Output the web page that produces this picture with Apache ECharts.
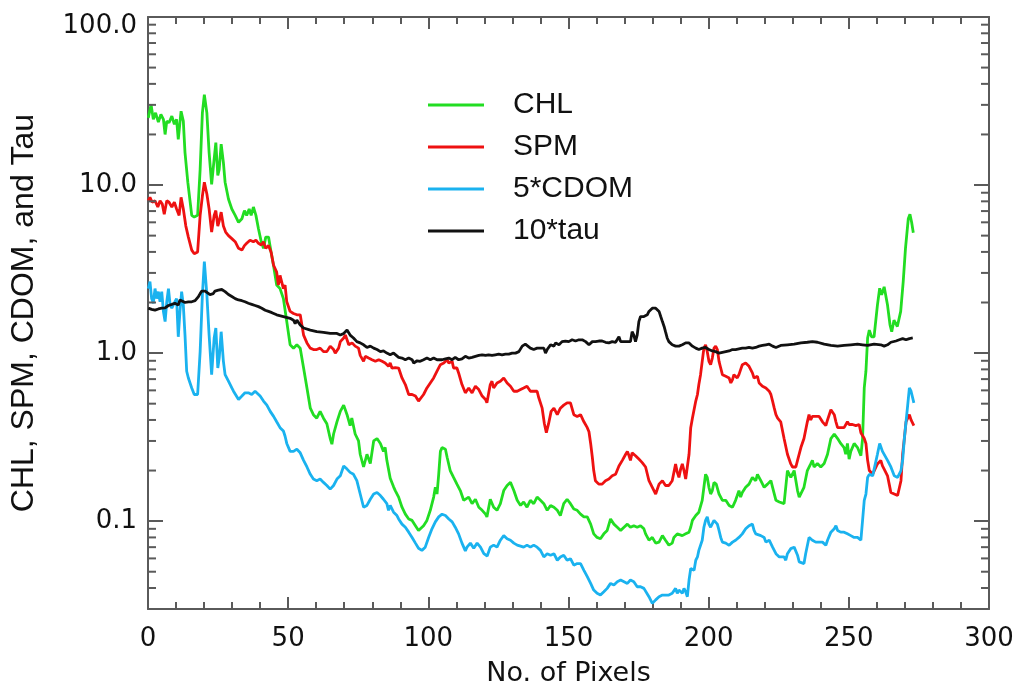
<!DOCTYPE html>
<html><head><meta charset="utf-8">
<script src="https://cdn.jsdelivr.net/npm/echarts@6/dist/echarts.min.js"></script>
<style>html,body{margin:0;padding:0;background:#fff}#c{width:1019px;height:692px}</style>
</head><body><div id="c"></div>
<script>
const seriesNames = ['CHL', 'SPM', '5*CDOM', '10*tau'];
const xTickInterval = 50;
const yMinorTicks = [0.04,0.05,0.06,0.07,0.08,0.09,0.2,0.3,0.4,0.5,0.6,0.7,0.8,0.9,2,3,4,5,6,7,8,9,20,30,40,50,60,70,80,90];

const chl = [[0.1,25.1],[1.1,30.1],[1.9,24.6],[2.7,26.9],[3.7,23.7],[4.6,26.3],[5.5,24.6],[6.1,20],[6.7,24],[7.5,23.5],[8.5,25.7],[9.4,23],[10.2,24.6],[10.8,18.7],[11.8,27.5],[12.6,24],[13.2,15.6],[14.2,10.4],[15.6,6.6],[16.5,6.45],[17.7,6.6],[18.6,12.4],[19.4,26.9],[20.1,34.5],[21,26.9],[21.8,15.6],[22.7,10.1],[23.6,14.3],[24.2,17.9],[24.9,11.4],[25.4,12.4],[26.1,17.5],[26.9,13.6],[27.5,10.4],[28.7,8.26],[29.9,7.2],[31.1,6.6],[32.3,6.0],[33.5,6.3],[34.4,7.05],[35.2,6.6],[36.1,7.2],[36.8,6.6],[37.6,7.4],[38.5,6.6],[39.4,5.5],[40.4,4.6],[41.2,4.2],[42,4.9],[43,4.9],[43.9,4.0],[44.8,3.3],[45.9,2.54],[47.1,2.42],[48.3,2.11],[49.5,1.54],[50.7,1.12],[51.9,1.07],[53.1,1.12],[54.3,1.07],[55.5,0.815],[56.7,0.62],[57.9,0.47],[59,0.43],[60.2,0.41],[61.4,0.45],[62.6,0.41],[63.8,0.38],[65,0.31],[65.6,0.287],[66.2,0.33],[67.4,0.39],[68.6,0.45],[69.8,0.49],[71,0.43],[72.1,0.37],[72.7,0.41],[73.9,0.33],[75.1,0.30],[75.7,0.25],[76.9,0.21],[78.1,0.25],[79.3,0.22],[80.5,0.30],[81.7,0.31],[82.9,0.29],[84,0.26],[84.6,0.275],[85.2,0.23],[86.4,0.18],[87.6,0.16],[88.2,0.152],[89.4,0.139],[90.6,0.121],[91.8,0.110],[93,0.103],[94.2,0.101],[95.4,0.094],[96.5,0.088],[97.1,0.086],[98.3,0.094],[99.5,0.101],[100.7,0.116],[101.9,0.139],[102.5,0.159],[103.1,0.145],[103.7,0.19],[104.3,0.26],[104.9,0.274],[106.1,0.268],[106.7,0.24],[107.8,0.2],[109,0.182],[110.2,0.166],[111.4,0.152],[112.6,0.133],[113.2,0.13],[114.4,0.139],[115.6,0.127],[116.8,0.135],[118,0.121],[119.2,0.116],[120.4,0.110],[120.9,0.106],[122.1,0.135],[123.3,0.121],[124.5,0.116],[125.7,0.127],[126.9,0.152],[128.1,0.163],[129.3,0.170],[130.5,0.152],[131.7,0.133],[132.9,0.124],[134,0.130],[135.2,0.121],[136.4,0.133],[137.6,0.127],[138.8,0.139],[140,0.133],[141.2,0.127],[142.4,0.116],[143.6,0.124],[144.8,0.121],[146,0.116],[147.1,0.108],[148.3,0.127],[149.5,0.135],[150.7,0.127],[151.9,0.118],[153.1,0.116],[154.3,0.110],[155.5,0.106],[156.7,0.106],[157.9,0.096],[159,0.084],[160.2,0.080],[161.4,0.0786],[162.6,0.084],[163.8,0.088],[165,0.103],[166.2,0.096],[167.4,0.092],[168.6,0.088],[169.8,0.092],[171,0.096],[172.1,0.092],[173.3,0.094],[174.5,0.092],[175.7,0.094],[176.9,0.090],[177.5,0.084],[178.7,0.077],[179.9,0.080],[181.1,0.074],[182.3,0.075],[183.5,0.082],[184.6,0.077],[185.8,0.072],[187,0.074],[187.6,0.080],[188.8,0.084],[190.6,0.082],[191.8,0.084],[193,0.086],[193.6,0.092],[194.2,0.101],[195.4,0.108],[196.5,0.113],[197.7,0.133],[198.3,0.159],[198.9,0.19],[199.5,0.182],[200.1,0.159],[200.7,0.145],[201.3,0.152],[201.9,0.170],[202.7,0.166],[203.7,0.145],[204.9,0.133],[206.1,0.133],[207.3,0.124],[208.5,0.121],[209.6,0.133],[210.2,0.142],[210.8,0.152],[211.4,0.139],[212,0.148],[213.2,0.159],[214.4,0.166],[215.6,0.182],[216.8,0.174],[217.4,0.19],[218.6,0.174],[219.8,0.159],[221,0.166],[222.2,0.174],[222.8,0.159],[224,0.133],[225.2,0.130],[226.9,0.127],[227.5,0.124],[228.1,0.2],[228.7,0.204],[229.3,0.182],[230.5,0.2],[231.7,0.152],[232.3,0.139],[232.9,0.139],[234,0.159],[235.2,0.2],[236.4,0.219],[237,0.23],[237.6,0.21],[238.8,0.22],[240,0.21],[241.2,0.22],[242.4,0.25],[243.6,0.31],[244.8,0.33],[246,0.31],[247.1,0.29],[248.3,0.274],[248.9,0.25],[249.5,0.29],[250.1,0.234],[250.7,0.26],[251.9,0.29],[253.1,0.274],[254.3,0.245],[254.9,0.31],[255.5,0.62],[256.1,0.78],[256.7,1.23],[257.3,1.37],[258.1,1.25],[259,1.25],[260.2,1.93],[261,2.43],[261.7,2.22],[262.6,2.48],[263.8,1.93],[264.7,1.47],[265.3,1.34],[266.1,1.57],[267.3,1.44],[268.5,1.77],[269.4,2.66],[270.2,4.18],[271.2,6.3],[271.8,6.7],[272.4,6.0],[273,5.2]];

const spm = [[0.1,8.07],[0.7,8.45],[1.5,7.9],[2.5,8.07],[3.5,7.4],[4.3,8.07],[5.1,7.7],[5.8,6.7],[6.7,8.07],[7.5,7.9],[8.5,7.4],[9.4,7.9],[10.2,7.2],[11.1,6.6],[11.8,8.45],[12.6,7.2],[13.5,5.7],[14.4,4.9],[15.6,4.1],[16.5,3.9],[17.7,4.0],[18.6,6.6],[19.4,8.6],[20.1,10.4],[21,8.85],[21.8,7.2],[22.7,5.25],[23.6,6.6],[24.2,7.05],[24.9,5.7],[25.4,6.1],[26.1,6.9],[26.9,5.7],[27.7,5.25],[28.7,5.0],[29.9,4.8],[31.1,4.6],[32.3,4.2],[33.5,4.1],[34.4,4.36],[35.2,4.5],[36.4,4.7],[37.6,4.6],[38.5,4.7],[39.4,4.5],[40.4,4.4],[41.2,4.6],[42,4.2],[43,4.36],[43.9,4.0],[44.8,3.33],[45.9,3.03],[46.5,2.54],[47.1,2.9],[48.3,2.42],[48.9,2.54],[49.5,2.02],[50.7,1.77],[51.9,1.72],[53.1,1.69],[54.3,1.69],[54.9,1.47],[55.5,1.28],[56.7,1.15],[57.9,1.07],[59,1.05],[60.2,1.05],[61.4,1.07],[62.6,1.02],[63.8,1.02],[65,1.1],[66.2,1.05],[66.8,1.0],[68,1.07],[68.6,1.17],[69.8,1.23],[70.4,1.28],[71,1.2],[71.6,1.12],[72.8,1.15],[73.9,1.1],[74.5,1.12],[75.1,1.07],[75.7,0.97],[76.9,0.893],[77.5,0.956],[78.7,0.934],[79.9,0.913],[81.1,0.893],[82.3,0.913],[83.5,0.893],[84.6,0.873],[85.8,0.834],[86.4,0.873],[87,0.815],[88.2,0.82],[89.4,0.815],[90.6,0.711],[91.8,0.65],[93,0.567],[94.2,0.567],[95.4,0.555],[96.5,0.518],[97.1,0.506],[98.3,0.567],[99.5,0.62],[100.7,0.664],[101.9,0.711],[103.1,0.78],[104.3,0.853],[105.5,0.873],[106.7,0.913],[107.3,0.873],[107.9,0.853],[108.5,0.893],[109,0.815],[110.2,0.815],[110.8,0.762],[112,0.65],[113.2,0.58],[114.4,0.62],[115.6,0.58],[116.8,0.635],[118,0.607],[119.2,0.555],[120.4,0.53],[120.9,0.506],[122.1,0.65],[122.7,0.68],[123.3,0.62],[124.5,0.664],[125.7,0.68],[126.9,0.711],[128.1,0.664],[129.3,0.635],[130.5,0.593],[131.7,0.593],[132.9,0.607],[134,0.62],[135.2,0.635],[136.4,0.593],[137.6,0.593],[138.8,0.593],[139.4,0.542],[140.6,0.47],[141.4,0.38],[142.1,0.336],[142.9,0.38],[143.8,0.45],[144.8,0.47],[146,0.43],[147.1,0.47],[148.3,0.49],[149.5,0.506],[150.7,0.506],[151.9,0.43],[153.1,0.42],[154.3,0.43],[155.5,0.39],[156.7,0.36],[157.3,0.34],[157.9,0.29],[158.5,0.24],[159,0.2],[159.6,0.174],[160.8,0.166],[162,0.166],[163.2,0.174],[164.4,0.178],[165.6,0.186],[166.8,0.19],[168,0.213],[169.2,0.23],[170.4,0.25],[171,0.26],[171.6,0.245],[172.1,0.23],[172.7,0.255],[173.9,0.245],[175.1,0.234],[176.3,0.223],[177.5,0.21],[178.7,0.174],[179.9,0.159],[181.1,0.145],[182.3,0.166],[183.5,0.174],[184.6,0.163],[185.8,0.163],[187,0.174],[188.2,0.219],[188.8,0.195],[189.4,0.182],[190,0.204],[190.6,0.219],[191.2,0.2],[191.8,0.178],[192.4,0.174],[193,0.25],[193.6,0.36],[194.2,0.41],[194.8,0.42],[195.4,0.518],[196,0.567],[196.5,0.65],[197.1,0.744],[197.7,0.893],[198.3,1.07],[198.9,1.12],[199.5,1.02],[200.1,0.893],[200.7,0.853],[201.3,0.934],[201.9,1.07],[202.5,1.1],[203.1,1.05],[203.7,0.893],[204.3,0.815],[204.9,0.744],[206.1,0.728],[207.3,0.711],[207.9,0.664],[208.5,0.695],[209,0.744],[209.6,0.728],[210.2,0.711],[210.8,0.744],[211.4,0.797],[212,0.853],[212.6,0.834],[213.2,0.873],[213.8,0.853],[214.4,0.834],[215,0.853],[215.6,0.762],[216.2,0.711],[216.8,0.695],[217.4,0.728],[218,0.664],[218.6,0.68],[219.2,0.635],[219.8,0.65],[220.4,0.62],[221,0.62],[221.6,0.593],[222.2,0.567],[222.8,0.518],[223.4,0.47],[224,0.43],[224.6,0.41],[225.7,0.39],[226.9,0.31],[228.1,0.25],[229.3,0.219],[229.9,0.21],[231.1,0.21],[231.7,0.23],[232.9,0.274],[234,0.31],[235.2,0.39],[235.8,0.43],[236.4,0.40],[237,0.42],[238.2,0.42],[239.4,0.42],[240.6,0.39],[241.8,0.37],[242.4,0.40],[243.6,0.46],[244.2,0.47],[244.8,0.43],[245.4,0.39],[246,0.36],[247.1,0.36],[248.3,0.36],[249.5,0.39],[250.1,0.376],[250.7,0.37],[251.3,0.376],[252.5,0.37],[253.1,0.36],[253.7,0.376],[254.3,0.336],[254.9,0.33],[255.5,0.31],[256.1,0.29],[256.7,0.23],[257.3,0.2],[258.5,0.19],[259,0.186],[260.2,0.219],[260.8,0.223],[261.4,0.23],[262,0.213],[262.6,0.204],[263.2,0.204],[263.8,0.186],[264.4,0.166],[265,0.148],[266.2,0.145],[267.4,0.142],[268,0.145],[268.6,0.174],[269.2,0.25],[269.8,0.31],[270.4,0.39],[271,0.41],[271.6,0.43],[272.2,0.40],[273.2,0.37]];

const cdom5 = [[0.1,2.42],[0.7,2.66],[1.3,2.11],[1.9,1.98],[2.5,2.42],[3.1,2.11],[3.7,2.32],[4.3,2.02],[4.9,2.32],[5.5,1.77],[6.1,1.54],[6.7,2.02],[7.3,2.42],[7.9,1.93],[8.5,1.85],[9,1.93],[9.6,2.02],[10.2,2.11],[10.8,1.25],[11.4,1.77],[12,2.32],[12.6,1.93],[13.2,1.28],[13.8,0.78],[14.4,0.711],[15.6,0.62],[16.5,0.567],[17.7,0.567],[18.6,1.02],[19.4,2.22],[20.1,3.5],[21,2.22],[21.8,1.28],[22.7,0.744],[23.6,1.23],[24.2,1.41],[24.9,0.815],[25.4,0.934],[26.1,1.34],[26.9,0.893],[27.5,0.744],[28.7,0.68],[29.9,0.62],[30.5,0.593],[31.1,0.593],[32.3,0.53],[33.5,0.555],[34.6,0.58],[35.8,0.58],[37,0.567],[38.2,0.593],[38.8,0.607],[40,0.555],[41.2,0.518],[42.4,0.49],[43.6,0.45],[44.8,0.42],[45.9,0.39],[47.1,0.36],[48.3,0.344],[48.9,0.32],[49.5,0.29],[50.7,0.26],[51.9,0.26],[53.1,0.268],[54.3,0.255],[55.5,0.23],[56.7,0.21],[57.9,0.19],[59,0.178],[60.2,0.174],[61.4,0.178],[62.6,0.17],[63.8,0.163],[65,0.155],[65.6,0.152],[66.2,0.163],[67.4,0.178],[68.6,0.186],[69.8,0.213],[71,0.204],[72.1,0.195],[73.3,0.19],[74.5,0.174],[75.7,0.145],[76.9,0.121],[78.1,0.124],[79.3,0.135],[80.5,0.145],[81.7,0.148],[82.9,0.142],[84,0.135],[84.6,0.133],[85.2,0.127],[85.8,0.116],[86.4,0.124],[87.6,0.113],[88.8,0.108],[89.4,0.103],[90.6,0.096],[91.8,0.092],[93,0.086],[94.2,0.080],[95.4,0.074],[96.5,0.069],[97.7,0.067],[98.9,0.070],[100.1,0.080],[101.3,0.090],[102.5,0.099],[103.7,0.106],[104.9,0.110],[106.1,0.108],[107.3,0.103],[108.5,0.099],[109.6,0.092],[110.8,0.084],[112,0.074],[113.2,0.0665],[113.8,0.070],[115,0.074],[116.2,0.069],[117.4,0.074],[118.6,0.070],[119.8,0.064],[121,0.062],[122.1,0.070],[123.3,0.072],[124.5,0.070],[125.7,0.077],[126.9,0.082],[128.1,0.0786],[129.3,0.077],[130.5,0.074],[131.7,0.072],[132.9,0.071],[134,0.070],[135.2,0.072],[136.4,0.070],[137.6,0.072],[138.8,0.070],[140,0.067],[141.2,0.0612],[142.4,0.064],[143.6,0.0627],[144.8,0.064],[146,0.0585],[147.1,0.0612],[148.3,0.0627],[149.5,0.0585],[150.7,0.0598],[151.9,0.0547],[153.1,0.0559],[154.3,0.0559],[155.5,0.051],[156.7,0.0467],[157.9,0.0426],[159,0.0389],[160.2,0.0372],[161.4,0.0363],[162.6,0.038],[163.8,0.0398],[165,0.0426],[166.2,0.0417],[167.4,0.0436],[168.6,0.0446],[169.8,0.0436],[171,0.0426],[172.1,0.0446],[173.3,0.0436],[173.9,0.0446],[174.5,0.0407],[175.7,0.0407],[176.9,0.0398],[177.5,0.0389],[178.7,0.0355],[179.9,0.0324],[181.1,0.034],[182.3,0.0355],[183.5,0.0363],[184.6,0.0363],[185.8,0.0363],[187,0.0372],[188.2,0.0398],[188.8,0.0372],[189.4,0.0389],[190.6,0.0372],[191.2,0.0398],[191.8,0.038],[192.4,0.0355],[193,0.0446],[193.6,0.0522],[194.2,0.0534],[194.8,0.051],[195.4,0.0585],[196,0.0612],[196.5,0.067],[197.7,0.077],[198.3,0.092],[198.9,0.101],[199.5,0.106],[200.1,0.096],[200.7,0.092],[201.3,0.090],[201.9,0.101],[202.5,0.101],[203.1,0.096],[203.7,0.088],[204.3,0.080],[204.9,0.075],[206.1,0.074],[207.3,0.0718],[208.5,0.075],[209.6,0.077],[210.8,0.080],[212,0.084],[213.2,0.090],[214.4,0.094],[215.6,0.096],[216.2,0.088],[216.8,0.084],[218.6,0.082],[219.2,0.084],[219.8,0.080],[220.4,0.075],[221.6,0.077],[222.8,0.070],[224,0.064],[225.2,0.0612],[226.9,0.0612],[227.5,0.0585],[228.1,0.064],[229.3,0.0686],[230.5,0.070],[231.1,0.0686],[231.7,0.0627],[232.3,0.0572],[232.9,0.0559],[234,0.0559],[234.6,0.064],[235.8,0.080],[237,0.077],[238.2,0.075],[240.6,0.075],[241.8,0.0718],[242.4,0.077],[243.6,0.086],[244.8,0.090],[245.4,0.094],[246,0.088],[247.1,0.086],[248.3,0.086],[249.5,0.084],[250.7,0.082],[251.9,0.080],[253.1,0.080],[254.3,0.077],[254.9,0.101],[255.5,0.133],[256.1,0.145],[256.7,0.182],[257.3,0.19],[258.5,0.186],[259,0.19],[260.2,0.25],[261,0.29],[262,0.26],[262.6,0.255],[263.8,0.23],[265,0.21],[266.2,0.186],[267.4,0.182],[268.6,0.2],[269.2,0.23],[269.8,0.31],[270.4,0.39],[271,0.49],[271.6,0.62],[272.2,0.593],[273.2,0.506]];

const tau10 = [[0.1,1.85],[1.3,1.82],[2.5,1.80],[3.7,1.83],[4.9,1.85],[6.1,1.86],[7.3,1.92],[8.5,1.95],[9.6,1.98],[10.2,2.02],[10.8,1.93],[11.4,2.07],[12,2.02],[13.2,2.0],[14.4,2.02],[15.6,2.02],[16.8,2.05],[17.4,2.07],[18,2.17],[18.6,2.26],[19.2,2.34],[19.8,2.38],[20.4,2.34],[21,2.29],[22.1,2.23],[22.7,2.22],[23.3,2.26],[23.9,2.34],[25.1,2.37],[26.3,2.39],[26.9,2.37],[27.5,2.32],[28.7,2.23],[29.9,2.17],[31.1,2.11],[32.3,2.07],[33.5,2.05],[34.6,2.02],[35.8,1.98],[37,1.95],[38.2,1.92],[39.4,1.89],[40.6,1.85],[41.8,1.80],[43,1.77],[44.2,1.74],[45.9,1.69],[48.3,1.65],[50.7,1.61],[51.9,1.57],[52.5,1.5],[53.1,1.57],[54.3,1.47],[55.5,1.41],[57.9,1.37],[60.2,1.34],[62.6,1.33],[65,1.31],[67.4,1.31],[68.6,1.28],[69.8,1.31],[71,1.37],[72.1,1.28],[73.3,1.23],[74.5,1.17],[75.7,1.15],[76.9,1.12],[78.1,1.08],[79.3,1.1],[80.5,1.07],[81.7,1.05],[82.9,1.02],[84,1.03],[85.2,1.0],[86.4,0.977],[87.6,1.0],[88.2,0.977],[89.4,0.943],[90.6,0.934],[91.8,0.913],[93,0.934],[94.2,0.913],[94.8,0.873],[96,0.90],[97.1,0.893],[98.3,0.913],[99.5,0.934],[100.7,0.913],[101.9,0.934],[103.1,0.913],[103.7,0.934],[104.9,0.913],[106.1,0.925],[107.3,0.934],[108.5,0.913],[109.6,0.943],[110.8,0.913],[112,0.925],[113.2,0.956],[114.4,0.934],[115.6,0.943],[116.8,0.956],[118,0.968],[119.2,0.977],[120.4,0.968],[121.5,0.977],[122.7,0.968],[123.9,0.977],[125.1,0.986],[126.3,0.977],[127.5,0.986],[128.7,0.986],[129.9,1.0],[131.1,1.0],[132.3,1.02],[133.5,1.1],[134.6,1.13],[135.2,1.15],[136.4,1.07],[137.6,1.05],[138.8,1.07],[140,1.07],[141.2,1.07],[141.8,1.0],[142.4,1.05],[143.6,1.12],[144.8,1.1],[145.4,1.15],[146.6,1.12],[147.7,1.17],[148.9,1.18],[150.1,1.17],[151.3,1.2],[152.5,1.18],[153.7,1.2],[154.9,1.2],[156.1,1.17],[157.3,1.12],[158.5,1.17],[159.6,1.17],[160.8,1.18],[162,1.18],[163.2,1.16],[164.4,1.15],[165.6,1.17],[166.8,1.16],[168,1.25],[168.6,1.17],[169.8,1.17],[171,1.17],[172.1,1.17],[172.7,1.34],[173.3,1.28],[173.9,1.17],[174.5,1.28],[175.1,1.54],[175.7,1.65],[176.9,1.65],[178.1,1.69],[178.7,1.77],[179.9,1.85],[180.5,1.89],[181.1,1.85],[182.3,1.77],[182.9,1.65],[183.5,1.54],[184.1,1.44],[184.6,1.34],[185.2,1.23],[185.8,1.17],[187,1.12],[188.2,1.1],[189.4,1.1],[190.6,1.12],[191.8,1.15],[192.4,1.17],[193,1.15],[194.2,1.1],[195.4,1.07],[196.5,1.05],[197.7,1.07],[198.9,1.08],[200.1,1.05],[201.3,1.03],[202.5,1.02],[203.7,1.0],[204.9,1.01],[206.1,1.02],[207.3,1.03],[208.5,1.05],[209.6,1.05],[210.8,1.06],[212,1.07],[213.2,1.07],[214.4,1.08],[215,1.1],[215.6,1.07],[216.8,1.08],[218,1.1],[219.2,1.11],[220.4,1.12],[221.6,1.13],[222.2,1.12],[222.8,1.1],[224,1.08],[225.7,1.11],[228.1,1.12],[230.5,1.13],[232.9,1.15],[235.2,1.16],[237,1.17],[238.8,1.16],[241.2,1.13],[243.6,1.11],[246,1.1],[248.3,1.11],[250.7,1.12],[253.1,1.13],[254.9,1.12],[256.7,1.11],[259,1.13],[261.4,1.12],[262.6,1.1],[263.8,1.12],[265,1.16],[266.8,1.18],[268,1.2],[269.2,1.22],[270.4,1.2],[271.6,1.22],[272.8,1.23]];

const colors = ['#22dd22', '#ee1111', '#1ab2ef', '#111111'];
const axisColor = '#5a5a5a';
const tickFont = 'DejaVu Sans';

function fmtY(v) {
  const e = Math.log10(v);
  if (Math.abs(e - Math.round(e)) > 1e-6) return '';
  const p = Math.pow(10, Math.round(e));
  const s = p >= 1 ? p.toFixed(1) : String(+p.toPrecision(1));
  return p >= 100 ? '{top|' + s + '}' : s;
}

const chart = echarts.init(document.getElementById('c'), null, {renderer: 'canvas'});
const lineSeries = [chl, spm, cdom5, tau10].map((d, i) => ({
  name: seriesNames[i], type: 'line', data: d, showSymbol: false, symbol: 'none',
  lineStyle: {color: colors[i], width: 2.8}, itemStyle: {color: colors[i]},
  xAxisIndex: 0, yAxisIndex: 0, z: 3, animation: false
}));

chart.setOption({
  backgroundColor: '#fff',
  animation: false,
  grid: {left: 148, top: 17, right: 30, bottom: 79, containLabel: false},
  legend: {
    orient: 'vertical', left: 428, top: 84, padding: 0, itemGap: 0,
    itemWidth: 56, itemHeight: 3, icon: 'rect',
    data: seriesNames,
    textStyle: {fontFamily: 'Liberation Sans', fontSize: 30, color: '#111', lineHeight: 22, padding: [0, 0, 20, 24]},
    selectedMode: false
  },
  xAxis: [{
    type: 'value', min: 0, max: 300, interval: xTickInterval, position: 'bottom',
    name: 'No. of Pixels', nameLocation: 'middle', nameGap: 51,
    nameTextStyle: {fontFamily: tickFont, fontSize: 27, color: '#111'},
    axisLine: {show: true, onZero: false, lineStyle: {color: axisColor, width: 2}},
    axisTick: {show: true, inside: true, length: 12, lineStyle: {color: axisColor, width: 2}},
    minorTick: {show: true, splitNumber: 5, length: 7, lineStyle: {color: axisColor, width: 2}},
    splitLine: {show: false},
    axisLabel: {margin: 17, fontFamily: tickFont, fontSize: 26, color: '#111'}
  }, {
    type: 'value', min: 0, max: 300, interval: xTickInterval, position: 'top',
    axisLine: {show: true, onZero: false, lineStyle: {color: axisColor, width: 2}},
    axisTick: {show: true, inside: true, length: 12, lineStyle: {color: axisColor, width: 2}},
    minorTick: {show: true, splitNumber: 5, length: 7, lineStyle: {color: axisColor, width: 2}},
    splitLine: {show: false}, axisLabel: {show: false}
  }],
  yAxis: [{
    type: 'log', logBase: 10, min: 0.03, max: 100, position: 'left',
    name: 'CHL, SPM, CDOM, and Tau', nameLocation: 'middle', nameGap: 108,
    nameTextStyle: {fontFamily: 'Liberation Sans', fontSize: 32, color: '#111'},
    axisLine: {show: true, onZero: false, lineStyle: {color: axisColor, width: 2}},
    axisTick: {show: true, inside: true, length: 15, lineStyle: {color: axisColor, width: 2}},
    splitLine: {show: false},
    axisLabel: {margin: 11, fontFamily: tickFont, fontSize: 26, color: '#111', formatter: fmtY,
      rich: {top: {fontFamily: tickFont, fontSize: 26, color: '#111', padding: [18, 0, 0, 0]}}}
  }, {
    type: 'log', logBase: 10, min: 0.03, max: 100, position: 'right',
    axisLine: {show: true, onZero: false, lineStyle: {color: axisColor, width: 2}},
    axisTick: {show: true, inside: true, length: 15, lineStyle: {color: axisColor, width: 2}},
    splitLine: {show: false}, axisLabel: {show: false}
  }],
  series: lineSeries.concat([{
    type: 'custom', name: 'yMinorTicks', silent: true, clip: false, z: 4,
    xAxisIndex: 0, yAxisIndex: 0,
    data: yMinorTicks.map(v => [0, v]),
    encode: {x: 0, y: 1},
    renderItem: function (params, api) {
      const v = api.value(1);
      const a = api.coord([0, v]);
      const b = api.coord([300, v]);
      return {type: 'group', children: [
        {type: 'line', shape: {x1: a[0], y1: a[1], x2: a[0] + 8, y2: a[1]}, style: {stroke: axisColor, lineWidth: 2}},
        {type: 'line', shape: {x1: b[0] - 8, y1: b[1], x2: b[0], y2: b[1]}, style: {stroke: axisColor, lineWidth: 2}}
      ]};
    }
  }])
});
</script>
</body></html>
